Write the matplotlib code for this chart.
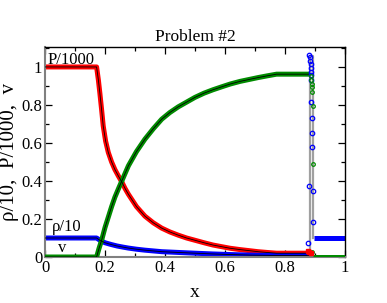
import matplotlib
matplotlib.use("Agg")
from matplotlib import pyplot as plt
from matplotlib.ticker import MultipleLocator

plt.rcParams['font.family'] = ['Liberation Serif', 'DejaVu Serif']

# numerical solution (smooth part)
x_p = [0, 0.172, 0.178, 0.183, 0.189, 0.194, 0.202, 0.211, 0.222, 0.233,
       0.245, 0.256, 0.267, 0.278, 0.305, 0.333, 0.361, 0.389, 0.416,
       0.444, 0.472, 0.5, 0.53, 0.56, 0.59, 0.617, 0.65, 0.683, 0.71,
       0.74, 0.772, 0.883]
p_1000 = [1.0, 1.0, 0.93, 0.86, 0.77, 0.69, 0.61, 0.55, 0.5, 0.46,
          0.425, 0.395, 0.36, 0.33, 0.265, 0.215, 0.18, 0.152, 0.132,
          0.115, 0.1, 0.088, 0.075, 0.063, 0.054, 0.046, 0.039, 0.033, 0.028,
          0.024, 0.02, 0.02]
x_p_post = [0.893, 1.0]
p_post = [0.0, 0.0]

x_v = [0, 0.172, 0.18, 0.189, 0.2, 0.211, 0.222, 0.233, 0.245, 0.256,
       0.267, 0.278, 0.305, 0.333, 0.361, 0.389, 0.416, 0.444, 0.472,
       0.5, 0.53, 0.56, 0.59, 0.617, 0.65, 0.683, 0.71, 0.74, 0.772, 0.883]
v = [0, 0, 0.045, 0.09, 0.155, 0.21, 0.265, 0.315, 0.36, 0.4,
     0.44, 0.48, 0.555, 0.62, 0.675, 0.725, 0.76, 0.79, 0.815,
     0.84, 0.862, 0.88, 0.896, 0.91, 0.924, 0.935, 0.944, 0.953, 0.962, 0.962]
x_v_post = [0.893, 1.0]
v_post = [0.0, 0.0]

x_rho = [0, 0.172, 0.185, 0.2, 0.22, 0.24, 0.26, 0.278, 0.305, 0.333,
         0.361, 0.389, 0.444, 0.5, 0.56, 0.617, 0.683, 0.772, 0.883]
rho_10 = [0.1, 0.1, 0.086, 0.075, 0.066, 0.058, 0.052, 0.047, 0.041, 0.036,
          0.032, 0.028, 0.024, 0.02, 0.016, 0.013, 0.01, 0.008, 0.008]
x_rho_post = [0.895, 1.0]
rho_post = [0.1, 0.1]

# scattered cells inside the thin shell
shell_rho_x = [0.881, 0.883, 0.884, 0.885, 0.886, 0.886, 0.887, 0.886, 0.887,
               0.89, 0.89, 0.891, 0.879, 0.892, 0.894, 0.878]
shell_rho_y = [1.063, 1.05, 1.033, 1.016, 0.996, 0.975, 0.958, 0.932, 0.817,
               0.73, 0.651, 0.577, 0.375, 0.349, 0.186, 0.075]
shell_v_x = [0.886, 0.888, 0.889, 0.891, 0.891, 0.893, 0.892, 0.891]
shell_v_y = [0.95, 0.93, 0.91, 0.896, 0.867, 0.795, 0.488, 0.028]
shell_p_x = [0.877, 0.881, 0.885]
shell_p_y = [0.03, 0.025, 0.02]

# exact density shell
shell_exact_x = [0.883, 0.883, 0.893, 0.893]
shell_exact_y = [0.008, 1.06, 1.06, 0.1]

red, green, blue = '#ff0000', '#008b00', '#0000ff'

fig = plt.figure(figsize=(3.87, 3.03), dpi=100)
ax = fig.add_axes([0.1163, 0.1518, 0.7752, 0.6931])

lw = 3.6
kw = dict(lw=lw, solid_capstyle='butt', solid_joinstyle='round')
ax.plot(x_p, p_1000, color=red, zorder=2, **kw)
ax.plot(x_p_post, p_post, color=red, zorder=2, **kw)
ax.plot(x_rho, rho_10, color=blue, zorder=2, **kw)
ax.plot(x_rho_post, rho_post, color=blue, zorder=2, **kw)
ax.plot(x_v, v, color=green, zorder=3, **kw)
ax.plot(x_v_post, v_post, color=green, zorder=3, **kw)

# exact solution
ax.plot(shell_exact_x, shell_exact_y, color='#a0a0a0', lw=1.6, zorder=1)
for xx, yy in [(x_p, p_1000), (x_v, v), (x_rho, rho_10)]:
    ax.plot(xx, yy, color='black', lw=0.6, zorder=4)

ax.plot(shell_rho_x, shell_rho_y, 'o', mfc='none', mec=blue, ms=3.2, mew=0.9, zorder=5)
ax.plot(shell_v_x, shell_v_y, 'o', mfc='none', mec=green, ms=2.6, mew=0.9, zorder=5)
ax.plot(shell_p_x, shell_p_y, 's', color=red, ms=3, zorder=5)

ax.set_xlim(0, 1)
ax.set_ylim(0, 1.105)
ax.set_xticks([0, 0.2, 0.4, 0.6, 0.8, 1.0])
ax.set_xticklabels(['0', '0.2', '0.4', '0.6', '0.8', '1'])
ax.set_yticks([0, 0.2, 0.4, 0.6, 0.8, 1.0])
ax.set_yticklabels(['0', '0.2', '0.4', '0.6', '0.8', '1'])
ax.xaxis.set_minor_locator(MultipleLocator(0.1))
ax.yaxis.set_minor_locator(MultipleLocator(0.1))
ax.tick_params(which='both', direction='in', top=True, right=True, labelsize=12, pad=2)
ax.tick_params(which='major', length=5, width=0.9)
ax.tick_params(which='minor', length=3, width=0.9)

for s in ['left', 'bottom']:
    ax.spines[s].set_color('#808080')
    ax.spines[s].set_linewidth(1.5)
for s in ['top', 'right']:
    ax.spines[s].set_linewidth(1.0)

ax.text(0.007, 1.035, 'P/1000', fontsize=12, va='center', ha='left')
ax.text(0.022, 0.156, 'ρ/10', fontsize=12, va='center', ha='left')
ax.text(0.056, 0.045, 'v', fontsize=12, va='center', ha='center')

ax.set_title('Problem #2', fontsize=12.5, pad=4)
ax.set_xlabel('x', fontsize=14, labelpad=6)
ax.set_ylabel('ρ/10,  P/1000,  v', fontsize=15, labelpad=2)

fig.savefig('out.png', dpi=100)
